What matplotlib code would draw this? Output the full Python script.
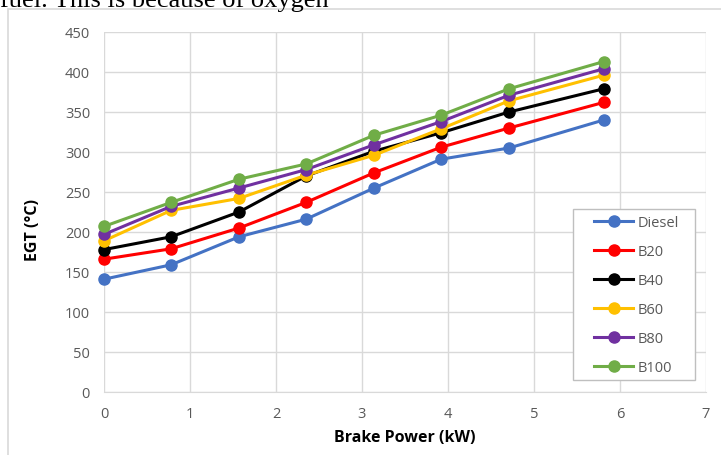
import matplotlib
matplotlib.use("Agg")
import matplotlib.pyplot as plt
from matplotlib.patches import Rectangle
from matplotlib.lines import Line2D

brake_power = [0, 0.78, 1.57, 2.35, 3.14, 3.92, 4.71, 5.81]
diesel = [141, 159, 194, 216, 255, 291, 305, 340]
b20 = [166, 179, 205, 237, 274, 306, 330, 362]
b40 = [178, 194, 225, 270, 301, 324, 350, 379]
b60 = [189, 227, 242, 271, 296, 329, 364, 396]
b80 = [197, 232, 255, 278, 309, 338, 371, 404]
b100 = [207, 237, 266, 285, 321, 346, 379, 413]
series_names = ["Diesel", "B20", "B40", "B60", "B80", "B100"]
series_values = [diesel, b20, b40, b60, b80, b100]
colors = ["#4472C4", "#FF0000", "#000000", "#FFC000", "#7030A0", "#70AD47"]
x_ticks = [0, 1, 2, 3, 4, 5, 6, 7]
y_ticks = [0, 50, 100, 150, 200, 250, 300, 350, 400, 450]

W, H = 721, 456
fig = plt.figure(figsize=(W / 100, H / 100), dpi=100)
fig.patch.set_facecolor("white")


def fx(px):
    return px / W


def fy(py):
    return 1 - py / H


# chart frame
fig.patches.append(Rectangle((fx(7.5), -0.1), 1.0, fy(10) + 0.1,
                             transform=fig.transFigure, fill=False,
                             edgecolor="#d9d9d9", linewidth=1.2, zorder=0))
# cut-off document text at top
fig.text(fx(0), fy(7), "fuel. This is because of oxygen",
         family="Liberation Serif", fontsize=19, va="baseline", ha="left",
         color="black")

ax = fig.add_axes([fx(104), 63 / H, 602 / W, 360 / H])
for name, vals, c in zip(series_names, series_values, colors):
    ax.plot(brake_power, vals, color=c, linewidth=2.2, marker="o",
            markersize=8, label=name, zorder=3, clip_on=False)

ax.set_xlim(0, 7)
ax.set_ylim(0, 450)
ax.set_xticks(x_ticks)
ax.set_yticks(y_ticks)
ax.grid(True, color="#d9d9d9", linewidth=1)
ax.set_axisbelow(True)
for s in ["top", "right", "left"]:
    ax.spines[s].set_visible(False)
ax.spines["bottom"].set_color("#d9d9d9")
ax.tick_params(length=0, colors="#595959", labelsize=10.5, pad=10)
for lab in ax.get_xticklabels() + ax.get_yticklabels():
    lab.set_family("Open Sans")
    lab.set_color("#595959")

ax.set_xlabel("Brake Power (kW)", family="Open Sans", fontsize=11.5,
              fontweight="bold", color="black", labelpad=6)
fig.text(fx(33), fy(230), "EGT (°C)", family="Open Sans", fontsize=11.5,
         fontweight="bold", rotation=90, ha="center", va="center")

# legend frame
fig.patches.append(Rectangle((fx(573), fy(381)), (695 - 573) / W, (381 - 210) / H,
                             transform=fig.transFigure, facecolor="white",
                             edgecolor="#bfbfbf", linewidth=1, zorder=4))
handles = [Line2D([0], [0], color=c, linewidth=2.2, marker="o", markersize=8)
           for c in colors]
leg = fig.legend(handles, series_names, loc="upper left",
                 bbox_to_anchor=(fx(594), fy(216.5)),
                 frameon=False, prop={"family": "Open Sans", "size": 10.5},
                 handlelength=2.7, labelspacing=0.96, borderpad=0,
                 handletextpad=0.3, borderaxespad=0)
leg.set_zorder(5)
for t in leg.get_texts():
    t.set_color("#595959")

fig.savefig("out.png", dpi=100)
